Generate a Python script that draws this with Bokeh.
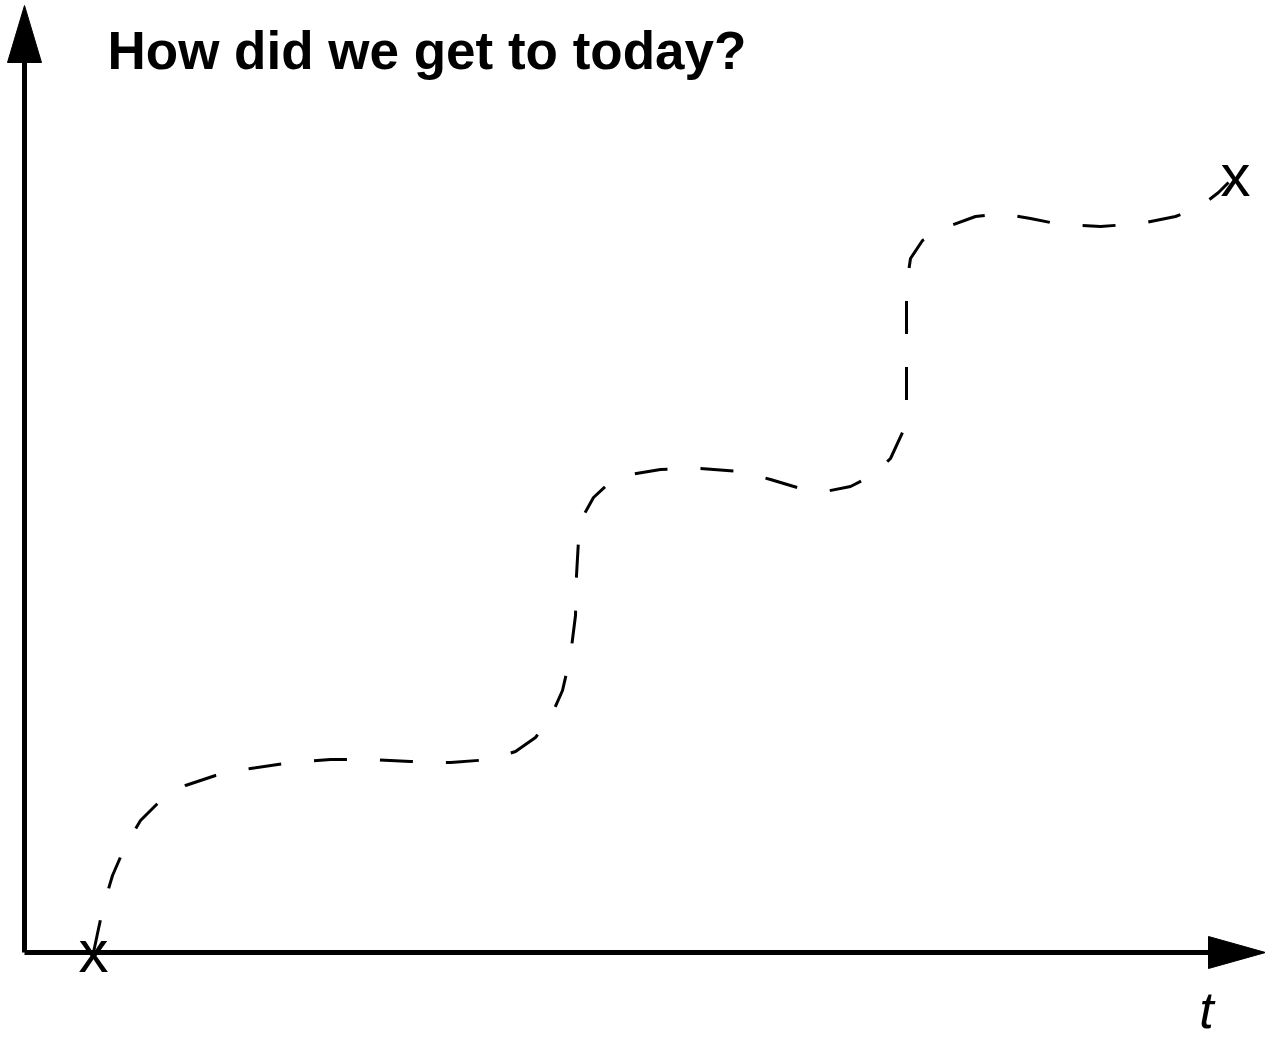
from bokeh.plotting import figure
from bokeh.models import Range1d
from bokeh.embed import file_html
from bokeh.resources import INLINE
from bokeh.core.properties import value

# ---- data (chart units: pixels right of / above the axis origin) ----
title_text = "How did we get to today?"
time_label = "t"
marker_label = "x"

path_t = [69, 73, 79, 88, 101, 116, 136, 161, 191, 226, 266, 306, 346, 386, 426,
          466, 491, 511, 526, 538, 546, 551, 552, 554, 559, 569, 584, 606, 636,
          676, 716, 746, 776, 801, 826, 848, 866, 878, 882, 882, 882, 882, 886,
          898, 921, 951, 976, 1006, 1036, 1076, 1116, 1151, 1176, 1194, 1204]
path_y = [0, 19, 47, 77, 107, 132, 152, 167, 177, 184, 190, 193, 193, 191, 190,
          193, 201, 215, 235, 262, 297, 337, 377, 412, 437, 455, 469, 478, 483,
          484, 481, 473, 464, 461, 466, 477, 494, 520, 552, 592, 632, 667, 694,
          712, 725, 736, 739, 734, 728, 726, 729, 736, 746, 760, 770]

marker_t = [69, 1211]
marker_y = [-1, 775]

# axis geometry
x_axis_len = 1184
y_axis_len = 890
head_len_x = 57
head_len_y = 57
head_half = 17

W, H = 1265, 1038
p = figure(width=W, height=H, output_backend="svg", toolbar_location=None,
           x_range=Range1d(-24, 1241), y_range=Range1d(-86, 952),
           x_axis_location=None, y_axis_location=None, min_border=0)
p.grid.visible = False
p.outline_line_color = None
p.background_fill_color = "white"
p.border_fill_color = "white"

# axes
p.line([0, 0], [0, y_axis_len], line_width=5, line_color="black")
p.line([0, x_axis_len], [0, 0], line_width=5, line_color="black")
p.patch([-head_half, head_half, 0], [y_axis_len, y_axis_len, y_axis_len + head_len_y],
        fill_color="black", line_color="black", line_width=1)
p.patch([x_axis_len, x_axis_len, x_axis_len + head_len_x], [-head_half + 1, head_half - 1, 0],
        fill_color="black", line_color="black", line_width=1)

# dashed path
p.line(path_t, path_y, line_width=3, line_color="black", line_dash="33 33",
       line_cap="butt", line_join="round")

# markers
p.text(marker_t, marker_y, text=[marker_label, marker_label],
       text_font=value("Liberation Sans"), text_font_size="60px",
       text_align="center", text_baseline="alphabetic", y_offset=-2,
       text_color="black")

# labels
p.text([1182], [-74], text=[time_label], text_font=value("Liberation Sans"),
       text_font_style="italic", text_font_size="52px", text_align="center",
       text_baseline="alphabetic", y_offset=-17, text_color="black")
p.text([83], [884], text=[title_text], text_font=value("Liberation Sans"),
       text_font_style="bold", text_font_size="53px", text_align="left",
       text_baseline="alphabetic", y_offset=-18, text_color="black")

open("out.html", "w").write(file_html(p, INLINE))
